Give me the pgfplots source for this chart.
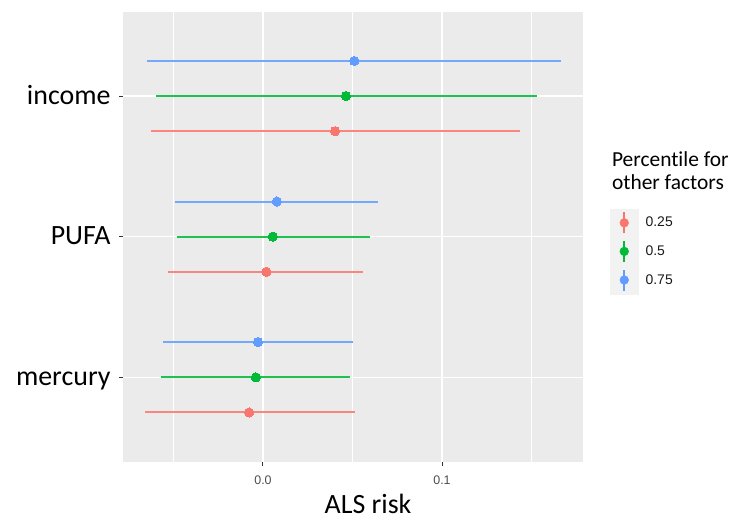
\documentclass[border=0pt]{standalone}
\usepackage{pgfplots}
\pgfplotsset{compat=1.18}
\usepackage{pgfplotstable}
\usepackage{fontspec}
\setmainfont{Carlito}
\newfontfamily\carlito[Ligatures=NoCommon]{Carlito}
\newfontfamily\arial{Liberation Sans}
\definecolor{ggred}{HTML}{F8766D}
\definecolor{gggreen}{HTML}{00BA38}
\definecolor{ggblue}{HTML}{619CFF}
\definecolor{panelbg}{HTML}{EBEBEB}
\definecolor{keybg}{HTML}{F2F2F2}
\definecolor{tickgray}{HTML}{333333}
\definecolor{labgray}{HTML}{4D4D4D}

% x = estimate, y = row position, ep/em = distance to upper/lower limit
\pgfplotstableread{
x y ep em
0.0403 2.75 0.1030 0.1026
0.0019 1.75 0.0541 0.0552
-0.0077 0.75 0.0591 0.0582
}\tabred
\pgfplotstableread{
x y ep em
0.0463 3.00 0.1070 0.1060
0.0055 2.00 0.0540 0.0533
-0.0040 1.00 0.0526 0.0531
}\tabgreen
\pgfplotstableread{
x y ep em
0.0510 3.25 0.1155 0.1156
0.0077 2.25 0.0563 0.0570
-0.0028 1.25 0.0529 0.0529
}\tabblue

\pgfplotsset{
  ggkey/.style={legend image code/.code={
      \fill[keybg] (-13.85bp,-14.1bp) rectangle (13.85bp,14.1bp);
      \draw[#1, line width=1.8bp] (0,-10.5bp) -- (0,10.5bp);
      \fill[#1] (0,0) circle (4.4bp);}},
  ggrange/.style={color=#1, only marks, mark=*, mark size=4.6bp,
      mark options={draw=#1, fill=#1, line width=0pt},
      error bars/x dir=both, error bars/x explicit, error bars/error mark=none,
      error bars/error bar style={line width=2bp, color=#1!88!white}},
}

\begin{document}
\begin{tikzpicture}
\path[use as bounding box] (0,0) rectangle (732bp,520bp);
\begin{axis}[
  at={(123bp,58.3bp)}, anchor=south west,
  scale only axis, width=459.7bp, height=450bp,
  xmin=-0.0782, xmax=0.1786, ymin=0.4, ymax=3.6,
  axis background/.style={fill=panelbg},
  axis line style={draw=none},
  xtick={0,0.1}, xticklabels={0.0,0.1},
  minor xtick={-0.05,0.05,0.15},
  ytick={1,2,3}, yticklabels={mercury,{PUFA\hspace{9bp}},income},
  xmajorgrids, xminorgrids, ymajorgrids,
  major grid style={white, line width=1.6bp},
  minor grid style={white, line width=0.9bp},
  tick align=outside, major tick length=4bp, minor tick length=0pt,
  tick style={color=tickgray, line width=1bp},
  xtick pos=left, ytick pos=left,
  xticklabel style={font=\arial\fontsize{12.5}{14}\selectfont, text=labgray, yshift=-7bp},
  yticklabel style={font=\carlito\fontsize{28}{32}\selectfont, text=black, anchor=base east, yshift=-8bp, xshift=-5bp},
  xlabel={ALS risk},
  xlabel style={font=\carlito\fontsize{28}{32}\selectfont, at={(axis description cs:0.533,0)}, anchor=base, yshift=-51.5bp},
  legend cell align=left,
  legend style={at={(axis description cs:1.0594,0.5631)}, anchor=north west,
    draw=none, fill=none, inner sep=0pt, row sep=0pt, column sep=7.3bp,
    nodes={inner sep=0pt}, font=\arial\fontsize{14}{16}\selectfont, text=black!90},
  clip=false,
]
\addplot[ggkey=ggred, ggrange=ggred] table[x=x, y=y, x error plus=ep, x error minus=em] {\tabred};
\addlegendentry{0.25}
\addplot[ggkey=gggreen, ggrange=gggreen] table[x=x, y=y, x error plus=ep, x error minus=em] {\tabgreen};
\addlegendentry{0.5}
\addplot[ggkey=ggblue, ggrange=ggblue] table[x=x, y=y, x error plus=ep, x error minus=em] {\tabblue};
\addlegendentry{0.75}
\node[anchor=base west, font=\carlito\fontsize{21.5}{24}\selectfont, inner sep=0pt] at (axis description cs:1.0634,0.657) {Percentile for};
\node[anchor=base west, font=\carlito\fontsize{21.5}{24}\selectfont, inner sep=0pt] at (axis description cs:1.0634,0.6038) {other factors};
\end{axis}
\end{tikzpicture}
\end{document}
